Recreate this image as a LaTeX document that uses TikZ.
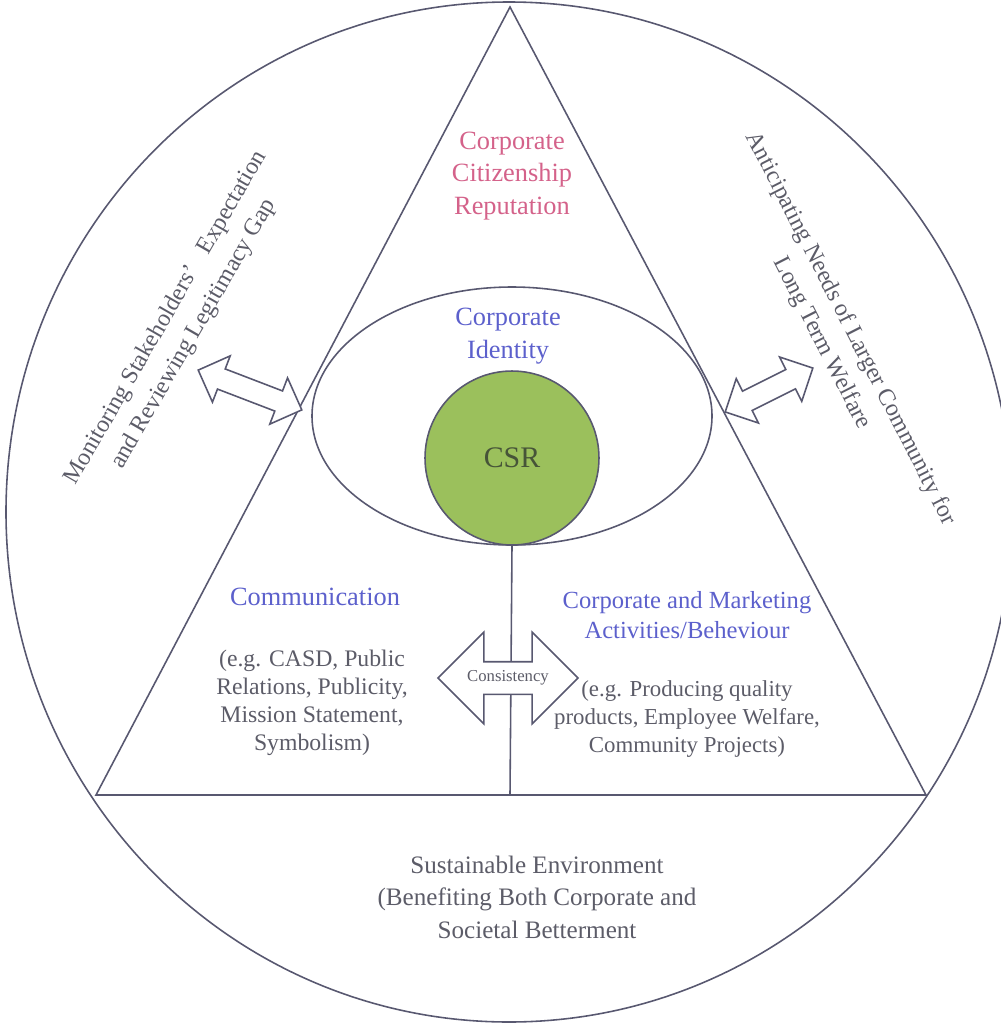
\documentclass[tikz,border=0pt]{standalone}
\usepackage{fontspec}
\setmainfont{Liberation Serif}
\usepackage{xcolor}
\usetikzlibrary{shapes.geometric, shapes.arrows, calc}
\definecolor{linegray}{RGB}{88,88,112}
\definecolor{pinktext}{RGB}{212,98,138}
\definecolor{bluetext}{RGB}{92,96,204}
\definecolor{graytext}{RGB}{92,92,104}
\definecolor{csrgreen}{RGB}{155,192,92}
\definecolor{csrtext}{RGB}{70,84,56}

\begin{document}
\begin{tikzpicture}[x=0.02cm, y=-0.02cm,
    outline/.style={draw=linegray, line width=0.9pt},
    pinklabel/.style={text=pinktext, align=center, font=\fontsize{15}{18.5}\selectfont},
    bluelabel/.style={text=bluetext, align=center, font=\fontsize{15}{18.5}\selectfont},
    graylabel/.style={text=graytext, align=center, font=\fontsize{13.5}{16}\selectfont},
    sidelabel/.style={text=graytext, align=center, font=\fontsize{13.7}{18.5}\selectfont},
    fatarrow/.style={double arrow, outline, fill=white, inner xsep=0pt, double arrow tip angle=90}
  ]
    \useasboundingbox (0,0) rectangle (1001,1025);
    \clip (0,0) rectangle (1001,1025);
    % outer circle
    \draw[outline] (509,512) ellipse [x radius=503, y radius=510];
    % triangle
    \coordinate (apex) at (510,7);
    \coordinate (bl) at (96,795);
    \coordinate (br) at (926,795);
    \coordinate (basemid) at (510,795);
    \draw[outline] (apex) -- (bl) -- (br) -- cycle;
    % identity ellipse and CSR core
    \draw[outline] (512,416) ellipse [x radius=200, y radius=129];
    \node (csr) [circle, outline, fill=csrgreen, minimum size=3.48cm, inner sep=0pt,
        text=csrtext, font=\fontsize{17}{20}\selectfont] at (512,458) {CSR};
    \draw[outline] (csr.south) -- (basemid);
    % double arrows
    \node (consist) [fatarrow, minimum height=2.8cm, inner ysep=0.31cm,
        double arrow head extend=0.59cm] at (508,678) {};
    \node (consisttext) [text=graytext, font=\fontsize{9.5}{10}\selectfont] at (consist.center) {Consistency};
    \node (leftarrow) [fatarrow, minimum height=2.22cm, inner ysep=0.2cm,
        double arrow head extend=0.28cm, rotate=-21] at (250,390) {};
    \node (rightarrow) [fatarrow, minimum height=1.96cm, inner ysep=0.2cm,
        double arrow head extend=0.28cm, rotate=26.6] at (769,390) {};
    % labels
    \node (reputation) [pinklabel] at (512,176) {Corporate\\Citizenship\\Reputation};
    \node (identity) [bluelabel] at (508,336) {Corporate\\Identity};
    \node (commhead) [bluelabel] at (315,597) {Communication};
    \node (commeg) [graylabel] at (312,703) {(e.g. CASD, Public\\Relations, Publicity,\\Mission Statement,\\Symbolism)};
    \node (acthead) [bluelabel, font=\fontsize{14}{17}\selectfont] at (687,615) {Corporate and Marketing\\Activities/Beheviour};
    \node (acteg) [graylabel, font=\fontsize{13}{16}\selectfont] at (687,719) {(e.g. Producing quality\\products, Employee Welfare,\\Community Projects)};
    \node (sustain) [graylabel, font=\fontsize{14.3}{18.5}\selectfont] at (537,897) {Sustainable Environment\\(Benefiting Both Corporate and\\Societal Betterment};
    \node (monitor) [sidelabel, rotate=60] at (180,326) {Monitoring Stakeholders’\ \ \ Expectation\\and Reviewing Legitimacy Gap};
    \node (anticip) [sidelabel, rotate=-63] at (836,336) {Anticipating Needs of Larger Community for\\Long Term Welfare};
\end{tikzpicture}
\end{document}
